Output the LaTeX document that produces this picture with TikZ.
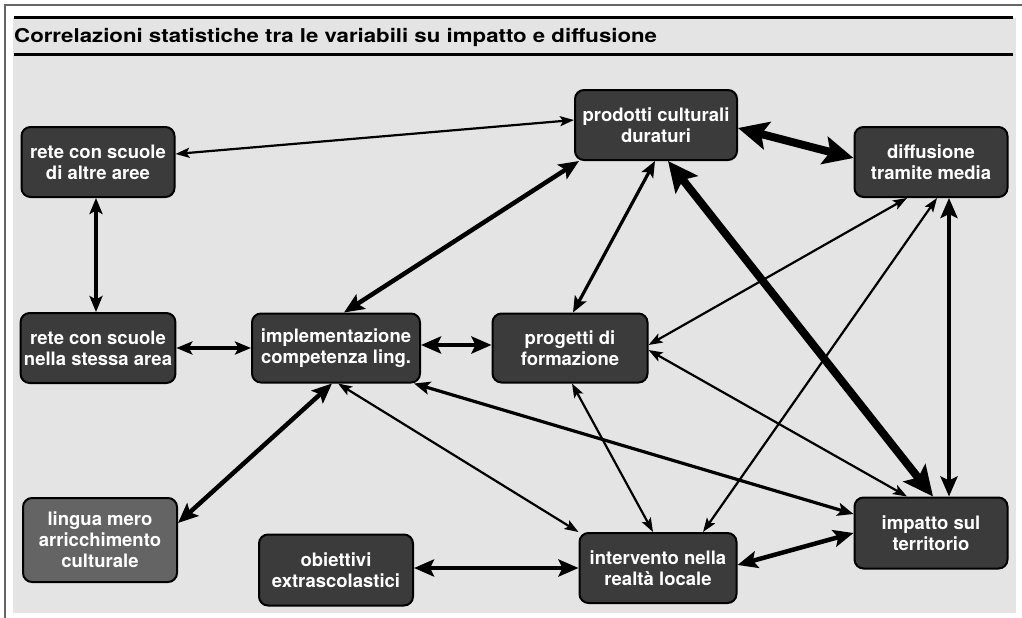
\documentclass[tikz,border=0pt]{standalone}
\usepackage{fontspec}
\setmainfont{TeX Gyre Heros}
\newfontfamily\titlefont[FakeStretch=1.17]{TeX Gyre Heros}
\usetikzlibrary{arrows.meta}
\definecolor{panel}{HTML}{E4E4E4}
\definecolor{frame}{HTML}{666666}
\definecolor{boxfill}{HTML}{3B3B3B}
\definecolor{boxlight}{HTML}{646464}
\tikzstyle{var} = [
    rectangle,
    draw,
    line width = 2pt,
    fill = boxfill,
    text = white,
    text centered,
    align = center,
    rounded corners = 9pt,
    font = \bfseries\fontsize{18.5}{21}\selectfont,
    minimum width = 153pt,
    minimum height = 70pt
]
\tikzstyle{weak} = [
    <->,
    >={Stealth[length=14pt, width=10pt, inset=3pt]},
    line width = 2.2pt
]
\tikzstyle{medium} = [
    <->,
    >={Stealth[length=16pt, width=13pt, inset=3.5pt]},
    line width = 3.2pt
]
\tikzstyle{strong} = [
    <->,
    >={Stealth[length=20pt, width=17pt, inset=4pt]},
    line width = 4.5pt
]
\tikzstyle{heavy} = [
    <->,
    >={Stealth[length=30pt, width=28pt, inset=6pt]},
    line width = 8pt
]

\begin{document}
\begin{tikzpicture}[x=1pt, y=-1pt]
    \useasboundingbox[fill=white] (0,0) rectangle (1022,618);
    % frame and title band
    \draw[frame, line width=1.2pt] (5,618) -- (5,5) -- (1022,5);
    \fill[panel] (13,18) rectangle (1016,613);
    \draw[line width=3pt] (14,18) -- (1013,18);
    \draw[line width=3pt] (14,55) -- (1013,55);
    \node[anchor=base west, inner sep=0pt, font=\titlefont\bfseries\fontsize{19}{22}\selectfont] (title) at (14,43)
        {Correlazioni statistiche tra le variabili su impatto e diffusione};

    % variables
    \node[var] (altre) at (98,162) {rete con scuole\\di altre aree};
    \node[var] (stessa) at (98,348) {rete con scuole\\nella stessa area};
    \node[var, minimum width=168pt, minimum height=69pt] (impl) at (336,348) {implementazione\\competenza ling.};
    \node[var, minimum width=155pt, minimum height=69pt] (prog) at (570,348) {progetti di\\formazione};
    \node[var, minimum width=162pt] (prod) at (656,125) {prodotti culturali\\duraturi};
    \node[var] (diff) at (931,162) {diffusione\\tramite media};
    \node[var, minimum height=71pt] (impatto) at (931,533) {impatto sul\\territorio};
    \node[var, fill=boxlight, minimum width=154pt, minimum height=84pt] (lingua) at (100,540) {lingua mero\\arricchimento\\culturale};
    \node[var, minimum width=154pt, minimum height=71pt] (obiettivi) at (336,570) {obiettivi\\extrascolastici};
    \node[var, minimum width=157pt] (interv) at (658,568) {intervento nella\\realtà locale};

    % correlations
    \draw[weak] ([yshift=8pt]altre.east) -- ([yshift=5pt]prod.west);
    \draw[medium] ([xshift=-2pt]altre.south) -- ([xshift=-2pt]stessa.north);
    \draw[medium] (stessa.east) -- (impl.west);
    \draw[strong] ([xshift=8pt]impl.north) -- ([xshift=5pt]prod.south west);
    \draw[strong] ([yshift=3pt]impl.east) -- ([yshift=3pt]prog.west);
    \draw[medium] ([xshift=3pt]prog.north) -- ([xshift=-1pt]prod.south);
    \draw[heavy] ([yshift=-3pt]prod.east) -- ([yshift=4pt]diff.west);
    \draw[heavy] ([xshift=12pt]prod.south) -- ([xshift=2pt]impatto.north);
    \draw[strong] ([xshift=18pt]diff.south) -- ([xshift=18pt]impatto.north);
    \draw[weak] ([yshift=3pt]prog.east) -- ([xshift=-24pt]diff.south);
    \draw[weak] ([xshift=45pt]interv.north) -- ([xshift=6pt]diff.south);
    \draw[weak] ([yshift=-2pt]prog.east) -- ([xshift=-24pt]impatto.north);
    \draw[medium] ([xshift=-7pt]impl.south east) -- ([yshift=19pt]impatto.west);
    \draw[weak] ([xshift=2pt]impl.south) -- (interv.north west);
    \draw[strong] ([xshift=-4pt]impl.south) -- ([yshift=17pt]lingua.east);
    \draw[weak] ([xshift=2pt]prog.south) -- ([xshift=-5pt]interv.north);
    \draw[strong] ([yshift=2pt]obiettivi.east) -- (interv.west);
    \draw[strong] ([yshift=3pt]interv.east) -- (impatto.west);
\end{tikzpicture}
\end{document}
